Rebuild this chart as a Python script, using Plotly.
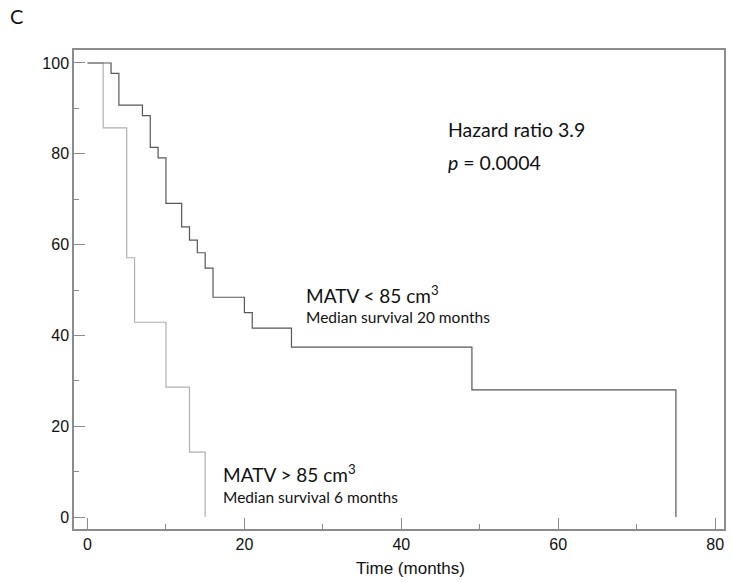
import plotly.graph_objects as go

# Kaplan-Meier step data
low_times = [0, 3, 4, 7, 8, 9, 10, 12, 13, 14, 15, 16, 20, 21, 26, 49, 75]
low_surv = [100, 97.7, 90.7, 88.4, 81.4, 79.1, 69.1, 63.9, 61.0, 58.2, 54.8, 48.4, 45.0, 41.6, 37.4, 28.0, 0]
high_times = [0, 2, 5, 6, 10, 13, 15]
high_surv = [100, 85.7, 57.1, 42.9, 28.6, 14.3, 0]

x_ticks = [0, 20, 40, 60, 80]
y_ticks = [0, 20, 40, 60, 80, 100]

fig = go.Figure()
fig.add_trace(go.Scatter(x=high_times, y=high_surv, mode="lines",
                         line=dict(shape="hv", color="#b0b0b0", width=1.2),
                         showlegend=False, hoverinfo="skip"))
fig.add_trace(go.Scatter(x=low_times, y=low_surv, mode="lines",
                         line=dict(shape="hv", color="#575757", width=1.2),
                         showlegend=False, hoverinfo="skip"))

W, H = 733, 582
ml, mr, mt, mb = 74, 7, 50, 53
pw, ph = W - ml - mr, H - mt - mb

ann_font = "Lato, 'Open Sans', sans-serif"
anns = [
    ("C", 8, 16, 20),
    ("Hazard ratio 3.9", 447, 129, 19.5),
    ("<i>p</i> = 0.0004", 447, 162, 19.5),
    ("MATV < 85 cm<sup>3</sup>", 305, 294, 19),
    ("Median survival 20 months", 305, 317, 15.5),
    ("MATV > 85 cm<sup>3</sup>", 221, 473, 19),
    ("Median survival 6 months", 221, 497, 15.5),
]
real_anns = []
for text, x, y, size in anns:
    real_anns.append(dict(text=text, x=(x - ml) / pw, y=1 - (y - mt) / ph,
                          xref="paper", yref="paper", xanchor="left", yanchor="middle",
                          showarrow=False,
                          font=dict(family=ann_font, color="#111111", size=size)))
real_anns.append(dict(text="Time (months)", x=(412 - ml) / pw, y=1 - (568 - mt) / ph,
                      xref="paper", yref="paper", xanchor="center", yanchor="middle",
                      showarrow=False,
                      font=dict(family="Liberation Sans, Arial, sans-serif", color="#111111", size=17)))

axis_col = "#8c8c8c"
tick_font = dict(family="Liberation Sans, Arial, sans-serif", size=16, color="#111111")
fig.update_layout(
    width=W, height=H,
    margin=dict(l=ml, r=mr, t=mt, b=mb),
    plot_bgcolor="white", paper_bgcolor="white",
    annotations=real_anns,
    xaxis=dict(range=[-1.72, 81.13], tickvals=x_ticks, ticks="inside", ticklen=11,
               tickcolor=axis_col, showline=True, linecolor=axis_col, linewidth=1.5,
               mirror=True, showgrid=False, zeroline=False,
               minor=dict(tickvals=[10, 30, 50, 70], ticks="inside", ticklen=5, tickcolor=axis_col),
               tickfont=tick_font),
    yaxis=dict(range=[-2.64, 102.86], tickvals=y_ticks, ticks="inside", ticklen=11,
               tickcolor=axis_col, showline=True, linecolor=axis_col, linewidth=1.5,
               mirror=True, showgrid=False, zeroline=False,
               minor=dict(tickvals=[10, 30, 50, 70, 90], ticks="inside", ticklen=5, tickcolor=axis_col),
               tickfont=tick_font),
)

fig.write_html("out.html", config={"displayModeBar": False},
               post_script="document.body.style.margin='0px';")
